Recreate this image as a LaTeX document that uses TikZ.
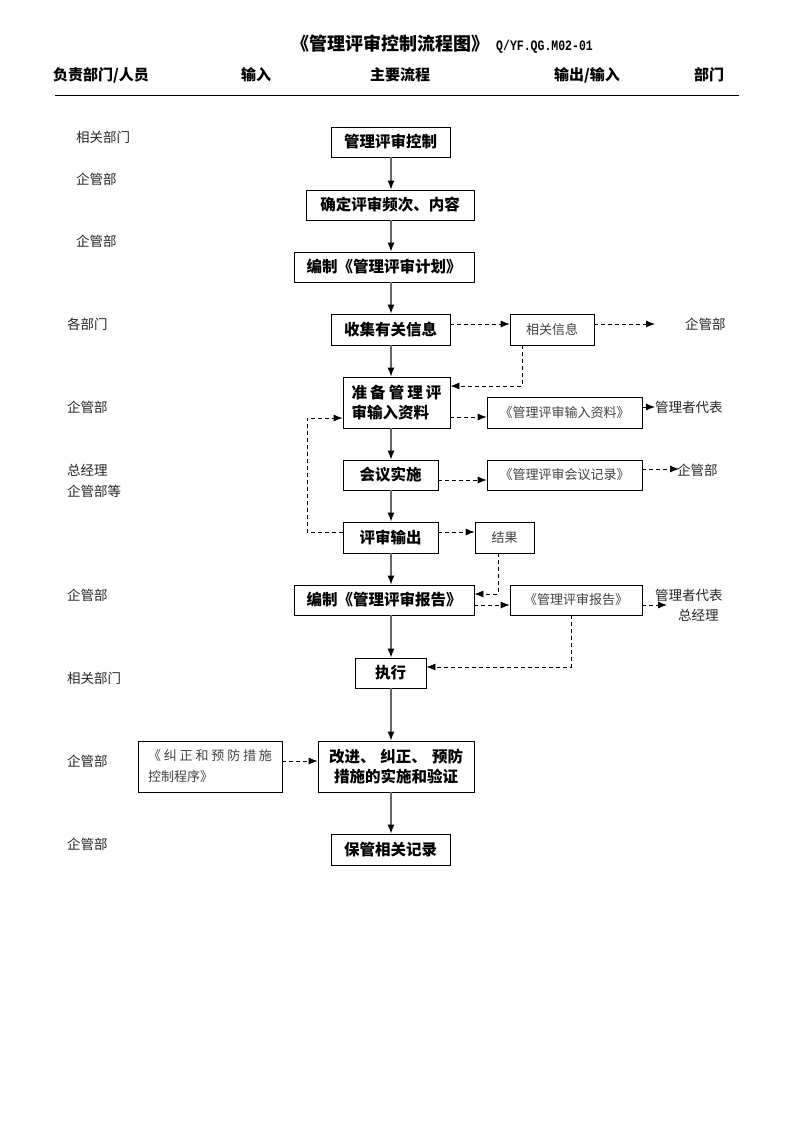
\documentclass[tikz,border=0pt]{standalone}
\usepackage{fontspec}
\newfontfamily\cjk{Noto Sans CJK SC}
\newfontfamily\monof{Liberation Mono}
\usetikzlibrary{arrows.meta}
\begin{document}
\begin{tikzpicture}[x=1pt,y=-1pt,
  mbox/.style={draw, line width=0.8pt, font=\cjk\bfseries\fontsize{15.5}{20}\selectfont, inner sep=0pt, align=center},
  sbox/.style={draw, line width=0.7pt, font=\cjk\fontsize{13}{21}\selectfont, text=black!75, inner sep=0pt, align=center},
  lab/.style={font=\cjk\fontsize{13.5}{17}\selectfont, anchor=west, inner sep=0pt, text=black!85},
  hdr/.style={font=\cjk\bfseries\fontsize{15}{18}\selectfont, anchor=base, inner sep=0pt},
  marr/.style={draw=black!60, line width=1.2pt, -{Latex[length=9pt,width=7pt,color=black]}},
  darr/.style={line width=0.8pt, dash pattern=on 4pt off 3pt, -{Latex[length=9pt,width=7pt]}},
  dline/.style={line width=0.8pt, dash pattern=on 4pt off 3pt},
  sarr/.style={line width=0.8pt, -{Latex[length=9pt,width=7pt]}}]
\useasboundingbox (0,0) rectangle (793,1122);
% title
\node[font=\cjk\bfseries\fontsize{18}{20}\selectfont, anchor=base west, inner sep=0pt] (title) at (291,50) {《管理评审控制流程图》};
\node[font=\monof\bfseries\fontsize{11.5}{13}\selectfont, anchor=base west, inner sep=0pt, yscale=1.25] (code) at (496,50) {Q/YF.QG.M02-01};
% header
\node[hdr] (h1) at (101,80) {负责部门/人员};
\node[hdr] (h2) at (256,80) {输入};
\node[hdr] (h3) at (400,80) {主要流程};
\node[hdr] (h4) at (587,80) {输出/输入};
\node[hdr] (h5) at (709,80) {部门};
\draw[line width=1pt] (55,95.5) -- (739,95.5);
% main column
\coordinate (cx) at (391,0);
\node[mbox, minimum width=119, minimum height=30] (n1) at (390.5,142) {管理评审控制};
\node[mbox, minimum width=168, minimum height=30] (n2) at (390,205) {确定评审频次、内容};
\node[mbox, minimum width=180, minimum height=30] (n3) at (384,267) {编制《管理评审计划》};
\node[mbox, minimum width=119, minimum height=31] (n4) at (390.5,329.5) {收集有关信息};
\node[mbox, minimum width=107, minimum height=51, text width=90pt] (n5) at (396.5,402.5) {准\hfill 备\hfill 管\hfill 理\hfill 评\\审输入资料\hfill\mbox{}};
\node[mbox, minimum width=95, minimum height=30] (n6) at (390.5,475) {会议实施};
\node[mbox, minimum width=95, minimum height=31] (n7) at (390.5,537.5) {评审输出};
\node[mbox, minimum width=180, minimum height=30] (n8) at (384,600) {编制《管理评审报告》};
\node[mbox, minimum width=71, minimum height=30] (n9) at (390.5,673) {执行};
\node[mbox, minimum width=156, minimum height=51, text width=134pt] (n10) at (396,766.5) {改进、\hfill 纠正、\hfill 预防\\措施的实施和验证};
\node[mbox, minimum width=119, minimum height=31] (n11) at (390.5,849.5) {保管相关记录};
\draw[marr] (n1.south -| cx) -- (n2.north -| cx);
\draw[marr] (n2.south -| cx) -- (n3.north -| cx);
\draw[marr] (n3.south -| cx) -- (n4.north -| cx);
\draw[marr] (n4.south -| cx) -- (n5.north -| cx);
\draw[marr] (n5.south -| cx) -- (n6.north -| cx);
\draw[marr] (n6.south -| cx) -- (n7.north -| cx);
\draw[marr] (n7.south -| cx) -- (n8.north -| cx);
\draw[marr] (n8.south -| cx) -- (n9.north -| cx);
\draw[marr] (n9.south -| cx) -- (n10.north -| cx);
\draw[marr] (n10.south -| cx) -- (n11.north -| cx);
% side boxes
\node[sbox, minimum width=84, minimum height=31] (s1) at (552,329.5) {相关信息};
\node[sbox, minimum width=155, minimum height=31] (s2) at (564.5,412.5) {《管理评审输入资料》};
\node[sbox, minimum width=155, minimum height=30] (s3) at (564.5,475) {《管理评审会议记录》};
\node[sbox, minimum width=59, minimum height=31] (s4) at (504.5,537.5) {结果};
\node[sbox, minimum width=132, minimum height=30] (s5) at (576,600) {《管理评审报告》};
\node[sbox, minimum width=144, minimum height=51, text width=124pt, align=left] (s6) at (210,766.5) {\makebox[124pt][l]{《\hfill 纠\hfill 正\hfill 和\hfill 预\hfill 防\hfill 措\hfill 施}\\控制程序》};
% right labels
\node[lab] (r1) at (685,324) {企管部};
\node[lab] (r2) at (655,407) {管理者代表};
\node[lab] (r3) at (677,470) {企管部};
\node[lab] (r4) at (655,595) {管理者代表};
\node[lab] (r5) at (678,615) {总经理};
\coordinate (e1) at (655,324);
\coordinate (e3) at (679,469);
\coordinate (e4) at (667,605);
% dashed connectors
\draw[darr] (n4.east |- 0,324) -- (s1.west |- 0,324);
\draw[darr] (s1.east |- 0,324) -- (e1);
\draw[darr] (s1.south -| 522,0) |- (n5.east |- 0,386);
\draw[darr] (n5.east |- 0,417) -- (s2.west |- 0,417);
\draw[sarr] (s2.east |- 0,407) -- (r2.west);
\draw[darr] (n6.east |- 0,480) -- (s3.west |- 0,480);
\draw[darr] (s3.east |- 0,469) -- (e3);
\draw[darr] (n7.east |- 0,532) -- (s4.west |- 0,532);
\draw[darr] (s4.south -| 498,0) |- (n8.east |- 0,594);
\draw[darr] (n7.west |- 0,532) -| (307,418) -- (n5.west |- 0,418);
\draw[darr] (n8.east |- 0,605) -- (s5.west |- 0,605);
\draw[darr] (s5.east |- 0,605) -- (e4);
\draw[darr] (s5.south -| 571,0) |- (n9.east |- 0,667);
\draw[darr] (s6.east |- 0,761) -- (n10.west |- 0,761);
% left labels
\node[lab] (l1) at (76,137) {相关部门};
\node[lab] (l2) at (76,179) {企管部};
\node[lab] (l3) at (76,241) {企管部};
\node[lab] (l4) at (67,324) {各部门};
\node[lab] (l5) at (67,407) {企管部};
\node[lab] (l6) at (67,470) {总经理};
\node[lab] (l7) at (67,491) {企管部等};
\node[lab] (l8) at (67,595) {企管部};
\node[lab] (l9) at (67,678) {相关部门};
\node[lab] (l10) at (67,761) {企管部};
\node[lab] (l11) at (67,844) {企管部};
\end{tikzpicture}
\end{document}
